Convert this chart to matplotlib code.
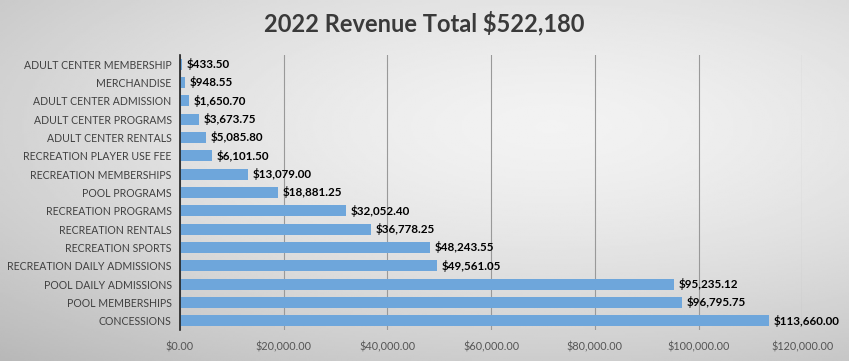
import numpy as np
import matplotlib
matplotlib.use("Agg")
import matplotlib.pyplot as plt
from matplotlib.ticker import FuncFormatter

# data, listed top to bottom as in the chart
categories = [
    "ADULT CENTER MEMBERSHIP", "MERCHANDISE", "ADULT CENTER ADMISSION",
    "ADULT CENTER PROGRAMS", "ADULT CENTER RENTALS", "RECREATION PLAYER USE FEE",
    "RECREATION MEMBERSHIPS", "POOL PROGRAMS", "RECREATION PROGRAMS",
    "RECREATION RENTALS", "RECREATION SPORTS", "RECREATION DAILY ADMISSIONS",
    "POOL DAILY ADMISSIONS", "POOL MEMBERSHIPS", "CONCESSIONS",
]
values = [433.50, 948.55, 1650.70, 3673.75, 5085.80, 6101.50, 13079.00,
          18881.25, 32052.40, 36778.25, 48243.55, 49561.05, 95235.12,
          96795.75, 113660.00]
x_ticks = [0, 20000, 40000, 60000, 80000, 100000, 120000]
title = "2022 Revenue Total $522,180"

plt.rcParams['font.family'] = ['Lato', 'DejaVu Sans']

fig = plt.figure(figsize=(8.49, 3.61), dpi=100)

# gray gradient background, lighter toward the upper right
bg = fig.add_axes([0, 0, 1, 1], zorder=-1)
yy, xx = np.mgrid[0:1:200j, 0:1:400j]
dist = np.sqrt(((xx - 0.65) / 1.0) ** 2 + ((yy - 0.35) / 0.9) ** 2)
shade = 0.95 - 0.24 * np.clip(dist, 0, 1) ** 1.5
bg.imshow(shade, cmap="gray", vmin=0, vmax=1, aspect="auto", extent=[0, 1, 0, 1])
bg.axis("off")

ax = fig.add_axes([0.212, 0.086, 0.733, 0.762])
ax.patch.set_alpha(0)

y = np.arange(len(categories))
ax.barh(y, values, height=0.6, color="#6ea6db", zorder=2)
ax.set_yticks(y)
ax.set_yticklabels(categories, fontsize=7.6, color="#404040")
ax.set_ylim(len(categories) - 0.5, -0.5)

ax.set_xlim(0, 120000)
ax.set_xticks(x_ticks)
ax.xaxis.set_major_formatter(FuncFormatter(lambda v, p: f"${v:,.2f}"))
ax.tick_params(axis="x", labelsize=7.8, labelcolor="#555555", length=0, pad=8)
ax.tick_params(axis="y", length=0, pad=6)
ax.grid(axis="x", color="#999999", linewidth=0.8, zorder=1)

for s in ["top", "right", "bottom"]:
    ax.spines[s].set_visible(False)
ax.spines["left"].set_color("#222222")
ax.spines["left"].set_linewidth(1.2)

for yi, v in zip(y, values):
    ax.text(v + 900, yi, f"${v:,.2f}", va="center", ha="left",
            fontsize=8.4, fontweight="bold", color="black", zorder=3)

fig.text(0.5, 0.935, title, ha="center", va="center", fontsize=17,
         fontweight="bold", color="#3a3a3a")

fig.savefig("out.png", dpi=100)
